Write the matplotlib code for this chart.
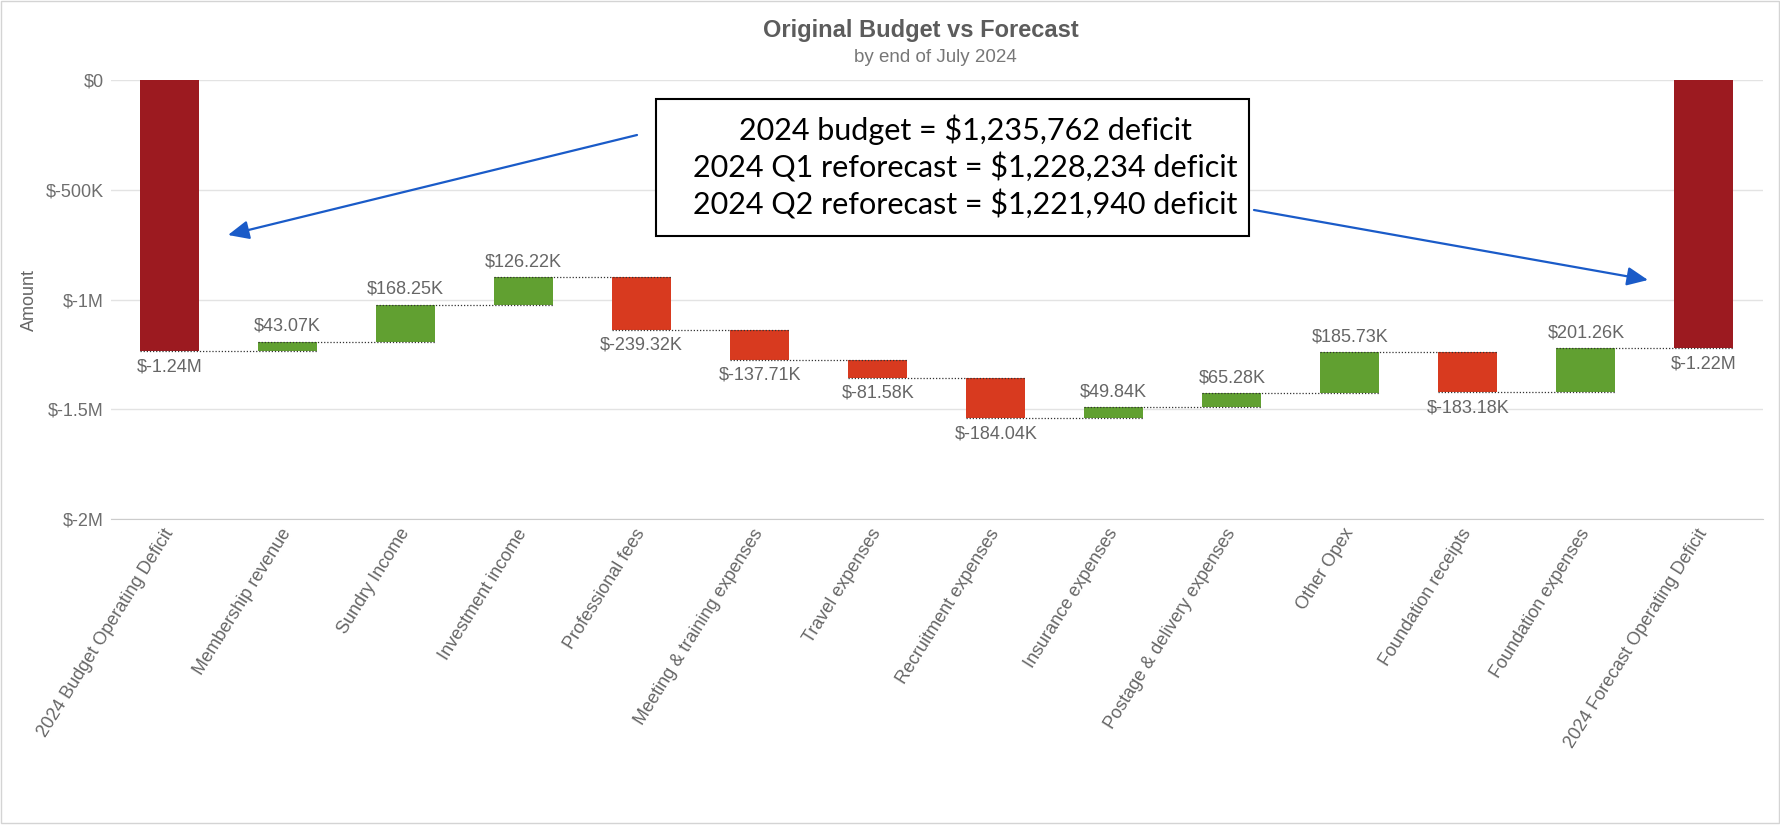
import numpy as np
import matplotlib
matplotlib.use("Agg")
import matplotlib.pyplot as plt
from matplotlib.patches import Rectangle, FancyArrowPatch
from matplotlib.ticker import FuncFormatter

plt.rcParams['font.family'] = ['Liberation Sans', 'DejaVu Sans']

W, H = 1780, 833

categories = [
    "2024 Budget Operating Deficit",
    "Membership revenue",
    "Sundry Income",
    "Investment income",
    "Professional fees",
    "Meeting & training expenses",
    "Travel expenses",
    "Recruitment expenses",
    "Insurance expenses",
    "Postage & delivery expenses",
    "Other Opex",
    "Foundation receipts",
    "Foundation expenses",
    "2024 Forecast Operating Deficit",
]

# opening deficit, then the movements; the last bar is the running total
budget_deficit = -1235762
movements = [43070, 168250, 126220, -239320, -137710, -81580,
             -184040, 49840, 65280, 185730, -183180, 201260]

note_lines = [
    "2024 budget = $1,235,762 deficit",
    "2024 Q1 reforecast = $1,228,234 deficit",
    "2024 Q2 reforecast = $1,221,940 deficit",
]

c_total = "#9c1a20"
c_pos = "#61a031"
c_neg = "#d83a1f"
c_text = "#666666"


def money(v):
    if abs(v) >= 1e6:
        return f"${v / 1e6:.2f}M"
    if v == 0:
        return "$0"
    return f"${v / 1e3:.2f}K"


def tick_fmt(v, pos):
    if v == 0:
        return "$0"
    if abs(v) >= 1e6:
        return f"${v / 1e6:g}M"
    return f"${v / 1e3:g}K"


def px(x, y):
    # figure pixels measured from the top-left corner
    return (x / W, 1 - y / H)


running = np.cumsum([budget_deficit] + movements)
final_total = running[-1]

bottoms, tops, colors = [0], [budget_deficit], [c_total]
prev = budget_deficit
for m, cur in zip(movements, running[1:]):
    bottoms.append(prev); tops.append(cur)
    colors.append(c_pos if m > 0 else c_neg)
    prev = cur
bottoms.append(0); tops.append(final_total); colors.append(c_total)
values = [budget_deficit] + movements + [final_total]

fig = plt.figure(figsize=(W / 100, H / 100), dpi=100)
ax = fig.add_axes([110.5 / W, 1 - 519 / H, 1652.5 / W, 439 / H])

x = np.arange(len(categories))
heights = np.array(tops) - np.array(bottoms)
ax.bar(x, heights, bottom=bottoms, width=0.5, color=colors, zorder=2)

# dotted connectors between consecutive bars
levels = [budget_deficit] + list(running[1:])
for i, lv in enumerate(levels):
    ax.plot([i - 0.25, i + 1.25], [lv, lv], color="#333333", lw=0.9,
            ls=(0, (1, 1.5)), zorder=3)

for i, v in enumerate(values):
    top = max(bottoms[i], tops[i])
    low = min(bottoms[i], tops[i])
    if v > 0 and 0 < i < len(values) - 1:
        ax.annotate(money(v), (i, top), xytext=(0, 5), textcoords="offset points",
                    ha="center", va="bottom", fontsize=13, color=c_text)
    else:
        ax.annotate(money(v), (i, low), xytext=(0, -5), textcoords="offset points",
                    ha="center", va="top", fontsize=13, color=c_text)

ax.set_xlim(-0.5, len(categories) - 0.5)
ax.set_ylim(-2e6, 0)
ax.set_yticks([0, -0.5e6, -1e6, -1.5e6, -2e6])
ax.yaxis.set_major_formatter(FuncFormatter(tick_fmt))
ax.grid(axis="y", color="#e3e3e3", lw=1, zorder=0)
ax.set_axisbelow(True)
for s in ["top", "right", "left"]:
    ax.spines[s].set_visible(False)
ax.spines["bottom"].set_color("#cccccc")
ax.tick_params(axis="y", length=0, pad=5, labelsize=13, labelcolor="#6e6e6e")
ax.tick_params(axis="x", length=0, pad=8)
ax.set_xticks(x)
ax.set_xticklabels(categories, rotation=58, ha="right", va="center",
                   rotation_mode="anchor", fontsize=13, color=c_text)
ax.set_ylabel("Amount", fontsize=13, color=c_text)
ax.yaxis.set_label_coords(-(110.5 - 38) / 1652.5, 0.5)

fig.text(*px(921, 31), "Original Budget vs Forecast", ha="center", va="center",
         fontsize=17, fontweight="bold", color="#5c5c5c")
fig.text(*px(935, 57), "by end of July 2024", ha="center", va="center",
         fontsize=13.5, color="#777777")

# note box with arrows to the opening and closing totals
x0, y0 = px(656, 236)
x1, y1 = px(1249, 99)
fig.add_artist(Rectangle((x0, y0), x1 - x0, y1 - y0, transform=fig.transFigure,
                         facecolor="white", edgecolor="black", lw=1.5, zorder=5))
fig.text(*px(965, 167), "\n".join(note_lines), ha="center", va="center",
         fontsize=22, family=["Lato", "DejaVu Sans"], linespacing=1.3,
         color="black", zorder=6)

arrow_kw = dict(transform=fig.transFigure, arrowstyle="-|>,head_length=0.85,head_width=0.38",
                mutation_scale=15, color="#1a5bc8", lw=1.6, shrinkA=0, shrinkB=0, zorder=6)
fig.add_artist(FancyArrowPatch(px(637, 135), px(228, 235), **arrow_kw))
fig.add_artist(FancyArrowPatch(px(1254, 210), px(1648, 280), **arrow_kw))

# thin frame around the chart area
fig.add_artist(Rectangle(px(1, 823), (W - 2) / W, 822 / H, transform=fig.transFigure,
                         fill=False, edgecolor="#d4d4d4", lw=1))

fig.savefig("out.png", dpi=100, facecolor="white")
